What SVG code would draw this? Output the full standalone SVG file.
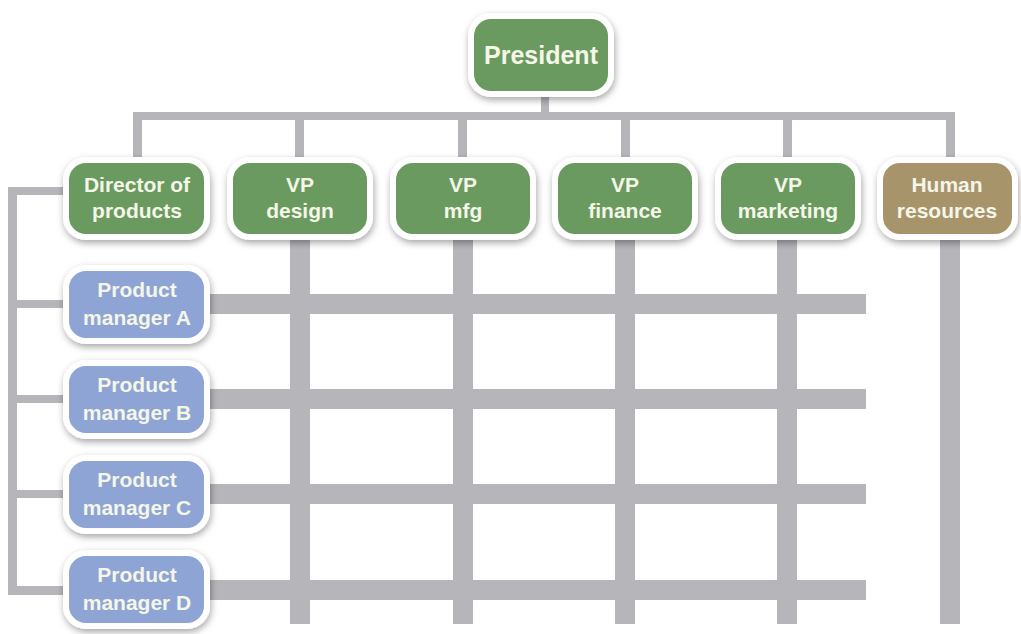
<svg xmlns="http://www.w3.org/2000/svg" width="1021" height="634" viewBox="0 0 1021 634">
<defs>
<filter id="sh" x="-20%" y="-20%" width="140%" height="150%">
<feDropShadow dx="1" dy="3" stdDeviation="3.5" flood-color="#000" flood-opacity="0.35"/>
</filter>
<style>
.ln{fill:#b5b5ba}
.box{stroke:#fff;stroke-width:6;filter:url(#sh)}
.g{fill:#6b9a5e}
.b{fill:#8ea4d4}
.t{fill:#a8946a}
text{font-family:"Liberation Sans","Open Sans",Arial,sans-serif;font-weight:bold;fill:#f4f6e8;text-anchor:middle;font-size:21px}
.big{font-size:25px}
</style>
</defs>
<rect width="1021" height="634" fill="#fff"/>
<g id="connectors">
<rect class="ln" x="541" y="90" width="8" height="26"/>
<rect class="ln" x="133" y="112" width="822" height="8"/>
<rect class="ln" x="133" y="112" width="9" height="48"/>
<rect class="ln" x="295" y="112" width="9" height="48"/>
<rect class="ln" x="458" y="112" width="9" height="48"/>
<rect class="ln" x="621" y="112" width="9" height="48"/>
<rect class="ln" x="783" y="112" width="9" height="48"/>
<rect class="ln" x="946" y="112" width="9" height="48"/>
<rect class="ln" x="8" y="187" width="9" height="408"/>
<rect class="ln" x="8" y="187" width="60" height="8"/>
<rect class="ln" x="8" y="300" width="60" height="8"/>
<rect class="ln" x="8" y="395" width="60" height="8"/>
<rect class="ln" x="8" y="490" width="60" height="8"/>
<rect class="ln" x="8" y="586" width="60" height="9"/>
<rect class="ln" x="290" y="238" width="20" height="386"/>
<rect class="ln" x="453" y="238" width="20" height="386"/>
<rect class="ln" x="615" y="238" width="20" height="386"/>
<rect class="ln" x="777" y="238" width="20" height="386"/>
<rect class="ln" x="940" y="238" width="20" height="386"/>
<rect class="ln" x="205" y="294" width="661" height="20"/>
<rect class="ln" x="205" y="389" width="661" height="20"/>
<rect class="ln" x="205" y="484" width="661" height="20"/>
<rect class="ln" x="205" y="580" width="661" height="20"/>
</g>
<g id="president">
<rect class="box g" x="471" y="16" width="140" height="78" rx="20"/>
<text class="big" x="541" y="64">President</text>
</g>
<g id="director">
<rect class="box g" x="66" y="160" width="141" height="77" rx="20"/>
<text x="137" y="192">Director of</text>
<text x="137" y="218">products</text>
</g>
<g id="vp-design">
<rect class="box g" x="230" y="160" width="140" height="77" rx="20"/>
<text x="300" y="192">VP</text>
<text x="300" y="218">design</text>
</g>
<g id="vp-mfg">
<rect class="box g" x="393" y="160" width="140" height="77" rx="20"/>
<text x="463" y="192">VP</text>
<text x="463" y="218">mfg</text>
</g>
<g id="vp-finance">
<rect class="box g" x="555" y="160" width="140" height="77" rx="20"/>
<text x="625" y="192">VP</text>
<text x="625" y="218">finance</text>
</g>
<g id="vp-marketing">
<rect class="box g" x="718" y="160" width="140" height="77" rx="20"/>
<text x="788" y="192">VP</text>
<text x="788" y="218">marketing</text>
</g>
<g id="human-resources">
<rect class="box t" x="880" y="160" width="135" height="77" rx="20"/>
<text x="947" y="192">Human</text>
<text x="947" y="218">resources</text>
</g>
<g id="pm-a">
<rect class="box b" x="66" y="268" width="141" height="73" rx="20"/>
<text x="137" y="297">Product</text>
<text x="137" y="325">manager A</text>
</g>
<g id="pm-b">
<rect class="box b" x="66" y="363" width="141" height="73" rx="20"/>
<text x="137" y="392">Product</text>
<text x="137" y="420">manager B</text>
</g>
<g id="pm-c">
<rect class="box b" x="66" y="458" width="141" height="73" rx="20"/>
<text x="137" y="487">Product</text>
<text x="137" y="515">manager C</text>
</g>
<g id="pm-d">
<rect class="box b" x="66" y="553" width="141" height="73" rx="20"/>
<text x="137" y="582">Product</text>
<text x="137" y="610">manager D</text>
</g>
</svg>
